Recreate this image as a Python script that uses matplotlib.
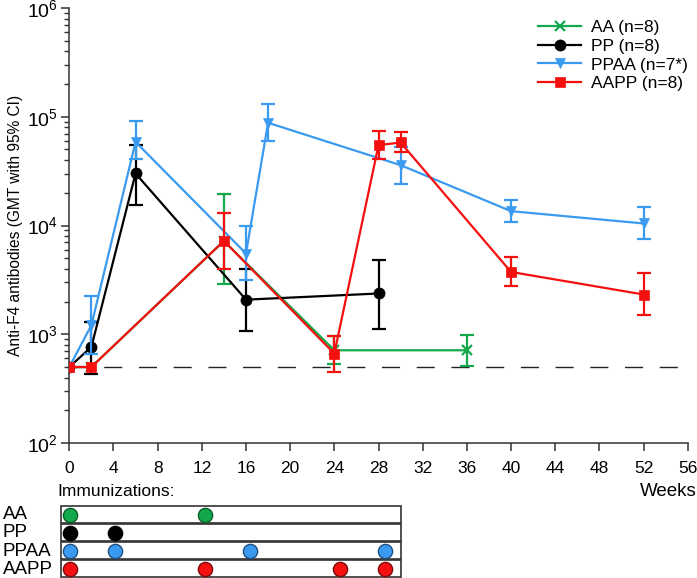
import numpy as np
import matplotlib
matplotlib.use("Agg")
import matplotlib.pyplot as plt
from matplotlib.patches import Rectangle

plt.rcParams['font.family'] = ['Liberation Sans', 'DejaVu Sans']
plt.rcParams['font.size'] = 12

nan = np.nan
# ---------------- data ----------------
weeks_AA = [0, 2, 14, 24, 36]
gmt_AA = [500, 500, 7200, 712, 712]
lo_AA = [nan, nan, 2870, 537, 511]
hi_AA = [nan, nan, 19400, 960, 994]

weeks_PP = [0, 2, 6, 16, 28]
gmt_PP = [500, 764, 30100, 2080, 2370]
lo_PP = [nan, 435, 15400, 1066, 1128]
hi_PP = [nan, 1297, 54800, 3940, 4800]

weeks_PPAA = [0, 2, 6, 16, 18, 30, 40, 52]
gmt_PPAA = [500, 1210, 58700, 5525, 88000, 35900, 13550, 10440]
lo_PPAA = [nan, 664, 40700, 3140, 59700, 24300, 10660, 7530]
hi_PPAA = [nan, 2240, 91000, 9900, 132000, 52800, 17000, 14650]

weeks_AAPP = [0, 2, 14, 24, 28, 30, 40, 52]
gmt_AAPP = [500, 500, 7220, 664, 54800, 58000, 3740, 2320]
lo_AAPP = [nan, nan, 3940, 450, 41300, 47600, 2780, 1496]
hi_AAPP = [nan, nan, 12900, 959, 74200, 71700, 5080, 3620]

baseline = 500
x_ticks = list(range(0, 57, 4))

groups = ['AA', 'PP', 'PPAA', 'AAPP']
legend_labels = ['AA (n=8)', 'PP (n=8)', 'PPAA (n=7*)', 'AAPP (n=8)']
immunizations = {
    'AA': [0, 12],
    'PP': [0, 4],
    'PPAA': [0, 4, 16, 28],
    'AAPP': [0, 12, 24, 28],
}

colors = {'AA': '#13A84B', 'PP': '#000000', 'PPAA': '#3A9AF0', 'AAPP': '#F51010'}
edge_colors = {'AA': '#0B5E2A', 'PP': '#000000', 'PPAA': '#1F4F80', 'AAPP': '#7A0A0A'}
markers = {'AA': 'x', 'PP': 'o', 'PPAA': 'v', 'AAPP': 's'}
msizes = {'AA': 7, 'PP': 8, 'PPAA': 7.5, 'AAPP': 6.5}

series = {
    'AA': (weeks_AA, gmt_AA, lo_AA, hi_AA),
    'PP': (weeks_PP, gmt_PP, lo_PP, hi_PP),
    'PPAA': (weeks_PPAA, gmt_PPAA, lo_PPAA, hi_PPAA),
    'AAPP': (weeks_AAPP, gmt_AAPP, lo_AAPP, hi_AAPP),
}

W, H = 697, 578
fig = plt.figure(figsize=(W / 100, H / 100), dpi=100)

x0, x1 = 69.3, 687.7
y_top, y_bot = 8, 443
ax = fig.add_axes([x0 / W, 1 - y_bot / H, (x1 - x0) / W, (y_bot - y_top) / H])

ax.axhline(baseline, color='#222222', lw=1.0, dashes=(13, 12), zorder=1)

for i, g in enumerate(groups):
    w, v, lo, hi = series[g]
    w = np.array(w, float); v = np.array(v, float)
    lo = np.array(lo, float); hi = np.array(hi, float)
    m = ~np.isnan(lo)
    ax.errorbar(w[m], v[m], yerr=[v[m] - lo[m], hi[m] - v[m]], fmt='none',
                ecolor=colors[g], elinewidth=1.6, capsize=5.3, capthick=1.6,
                zorder=2 + i)
    ax.plot(w, v, color=colors[g], lw=1.6, marker=markers[g], ms=msizes[g],
            mew=1.6 if g == 'AA' else 0.5, mec=colors[g],
            label=legend_labels[i], zorder=2.5 + i)

ax.set_yscale('log')
ax.set_ylim(100, 1e6)
ax.set_xlim(0, 56)
ax.set_xticks(x_ticks)
ax.set_xticklabels([str(t) for t in x_ticks], fontsize=12.5)
ax.tick_params(axis='y', which='major', labelsize=14)
for s in ['top', 'right']:
    ax.spines[s].set_visible(False)
for s in ['left', 'bottom']:
    ax.spines[s].set_linewidth(1.1)
    ax.spines[s].set_color('#333333')
ax.tick_params(axis='both', which='major', direction='out', length=6, width=1.1,
               color='#333333')
ax.tick_params(axis='y', which='minor', direction='out', length=3.5, width=1.0,
               color='#333333')
ax.tick_params(axis='x', pad=7)
ax.tick_params(axis='y', pad=2)
ax.set_ylabel('Anti-F4 antibodies (GMT with 95% CI)', fontsize=11.2, labelpad=3)

leg = ax.legend(loc='upper right', bbox_to_anchor=(1.02, 1.0), frameon=False,
                fontsize=12.5, handlelength=2.5, handletextpad=0.55,
                labelspacing=0.2, borderaxespad=0.3)

fig.text(57 / W, 1 - 492 / H, 'Immunizations:', fontsize=12.5, va='center', ha='left')
fig.text(697 / W, 1 - 492 / H, 'Weeks', fontsize=13.5, va='center', ha='right')

# immunization table
tx0, tx1 = 61, 401
ty0, ty1 = 505.5, 577.5
tax = fig.add_axes([tx0 / W, 1 - ty1 / H, (tx1 - tx0) / W, (ty1 - ty0) / H])
tax.set_xlim(-0.755, 29.44)
tax.set_ylim(4, 0)
tax.axis('off')
for r, g in enumerate(groups):
    tax.add_patch(Rectangle((-0.755, r + 0.04), 29.44 + 0.755, 0.92, fill=False,
                            lw=1.2, ec='#333333', clip_on=False))
    xs = immunizations[g]
    tax.scatter(xs, [r + 0.5] * len(xs), s=105, c=colors[g],
                edgecolors=edge_colors[g], linewidths=1.0, zorder=3, clip_on=False)
    fig.text(3 / W, 1 - (514.5 + 18.3 * r) / H, g, fontsize=13.5, va='center', ha='left')

fig.savefig('out.png', dpi=100)
